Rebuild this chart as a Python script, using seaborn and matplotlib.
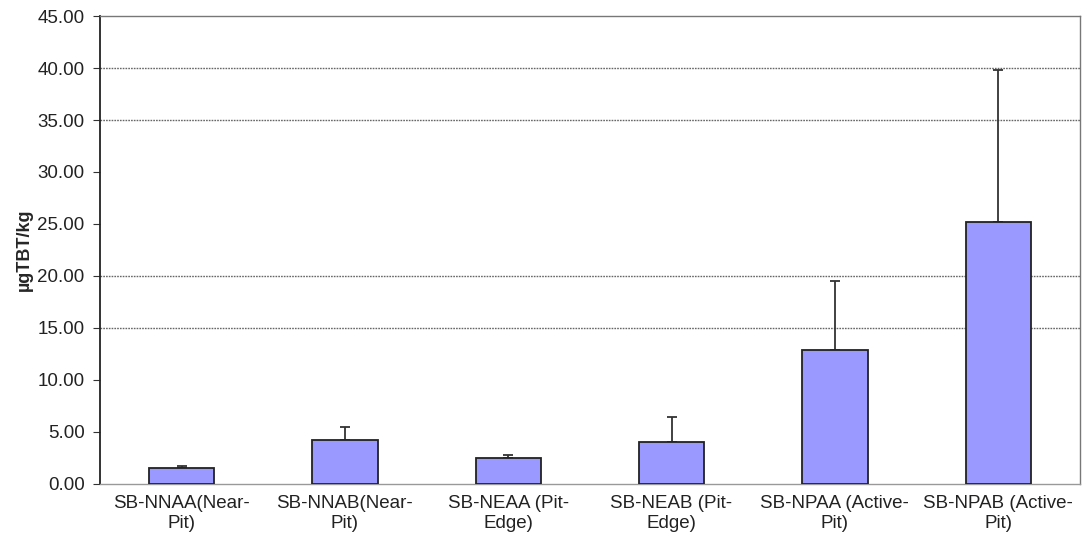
import matplotlib
matplotlib.use("Agg")
import matplotlib.pyplot as plt
import seaborn as sns
import numpy as np

# datos
sitios = ["SB-NNAA(Near-\nPit)", "SB-NNAB(Near-\nPit)", "SB-NEAA (Pit-\nEdge)",
          "SB-NEAB (Pit-\nEdge)", "SB-NPAA (Active-\nPit)", "SB-NPAB (Active-\nPit)"]
tbt = [1.50, 4.20, 2.45, 3.95, 12.85, 25.15]
tbt_sup = [1.72, 5.42, 2.70, 6.37, 19.50, 39.85]
lineas_grid = [15, 20, 35, 40]
yticks = [0, 5, 10, 15, 20, 25, 30, 35, 40, 45]

sns.set_style("white")
plt.rcParams["font.family"] = ["Liberation Sans", "DejaVu Sans"]

fig = plt.figure(figsize=(10.82, 5.40), dpi=100)
ax = fig.add_axes([0.0924, 0.1046, 0.9056, 0.8654])

sns.barplot(x=sitios, y=tbt, color="#9999FF", edgecolor="#222222",
            linewidth=1.3, width=0.4, saturation=1, ax=ax, zorder=3)

err = np.array(tbt_sup) - np.array(tbt)
ax.errorbar(np.arange(len(tbt)), tbt, yerr=[np.zeros(len(tbt)), err],
            fmt="none", ecolor="#333333", elinewidth=1.3, capsize=3.5,
            capthick=1.3, zorder=2)

for g in lineas_grid:
    ax.axhline(g, color="#666666", linestyle=(0, (1.2, 0.8)), linewidth=1.0, zorder=1)

ax.set_xlim(-0.5, len(tbt) - 0.5)
ax.set_ylim(0, 45)
ax.set_yticks(yticks)
ax.set_yticklabels([f"{v:.2f}" for v in yticks], fontsize=13.5, color="#222222")
ax.set_ylabel("µgTBT/kg", fontsize=13, fontweight="bold", labelpad=3)

ax.set_xticks(np.arange(len(tbt)))
ax.set_xticklabels(sitios, fontsize=13.5, color="#222222", linespacing=1.25)
ax.set_xticks(np.arange(len(tbt) + 1) - 0.5, minor=True)
ax.tick_params(axis="x", which="major", length=0, pad=8)
ax.tick_params(axis="x", which="minor", length=5, width=0.8, color="#888888")
ax.tick_params(axis="y", which="major", left=True, length=5, width=0.8, color="#333333", pad=6)

ax.spines["left"].set_color("#222222")
ax.spines["left"].set_linewidth(1.3)
ax.spines["bottom"].set_color("#999999")
ax.spines["bottom"].set_linewidth(1.0)
for s in ["top", "right"]:
    ax.spines[s].set_color("#777777")
    ax.spines[s].set_linewidth(1.0)

fig.savefig("out.png", dpi=100)
